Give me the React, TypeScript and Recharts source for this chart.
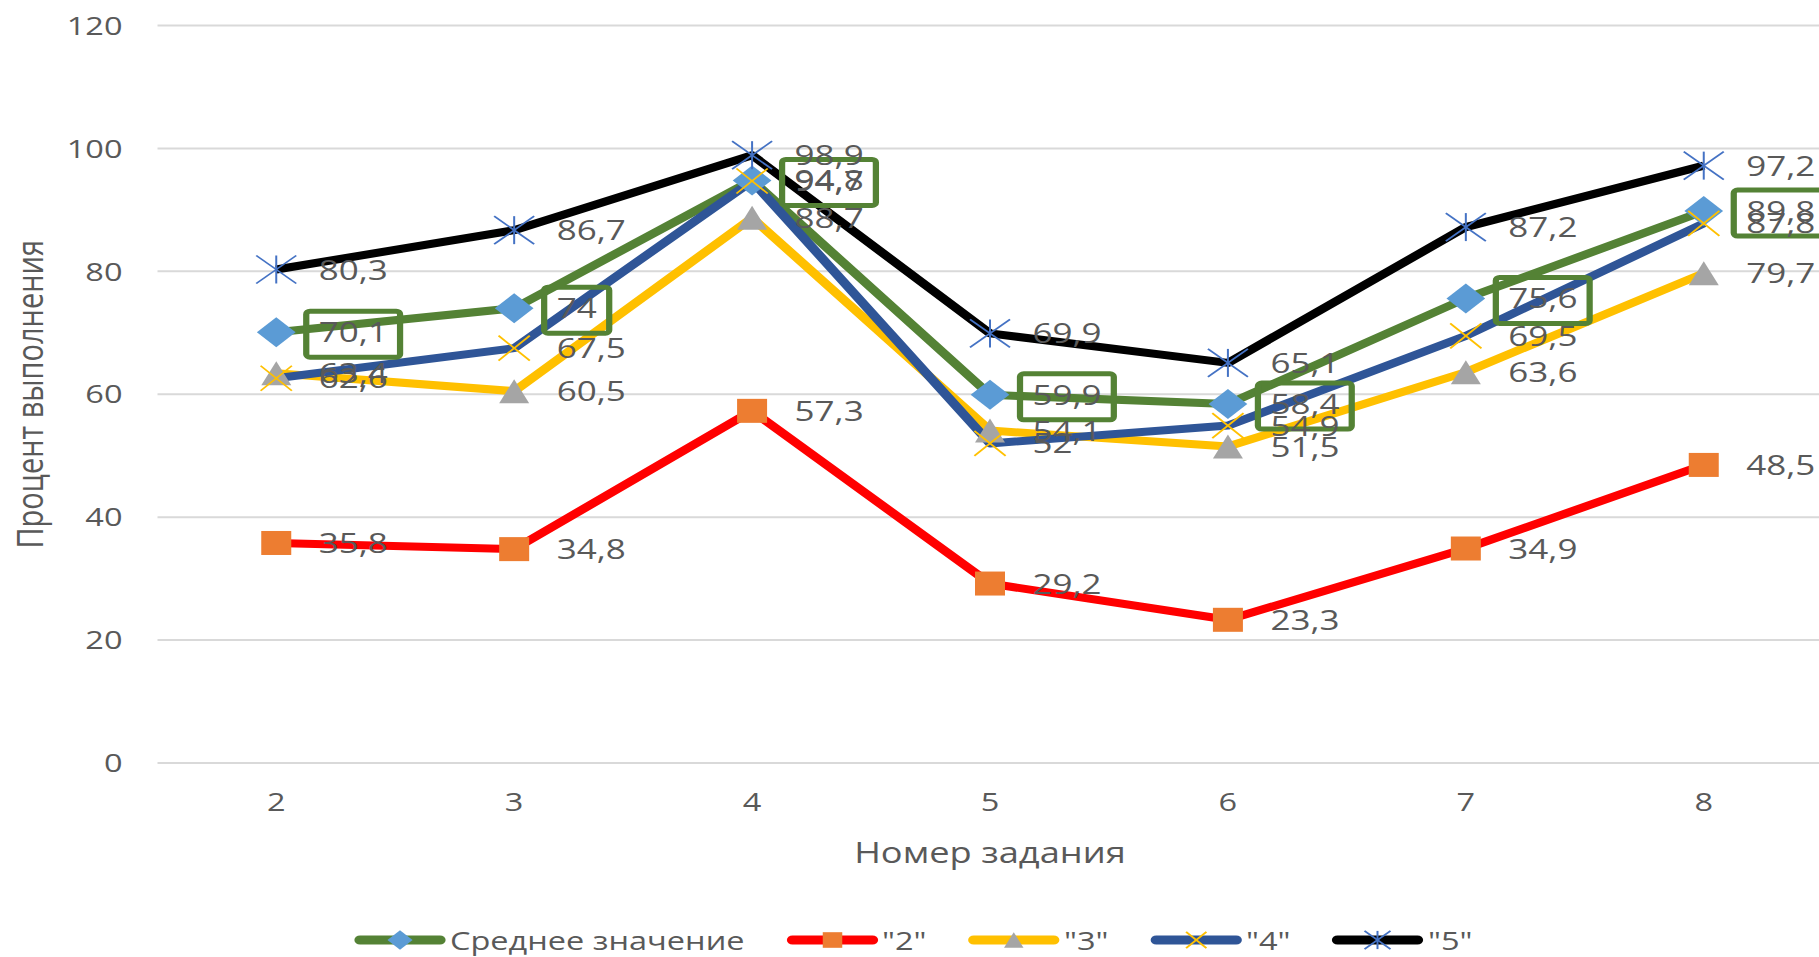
import { LineChart, Line, XAxis, YAxis, CartesianGrid, Legend, Label } from 'recharts'

const tasks = ['2', '3', '4', '5', '6', '7', '8']
const avgValues = [70.1, 74, 94.8, 59.9, 58.4, 75.6, 89.8]
const grade2 = [35.8, 34.8, 57.3, 29.2, 23.3, 34.9, 48.5]
const grade3 = [63.4, 60.5, 88.7, 54.1, 51.5, 63.6, 79.7]
const grade4 = [62.6, 67.5, 94.7, 52, 54.9, 69.5, 87.8]
const grade5 = [80.3, 86.7, 98.9, 69.9, 65.1, 87.2, 97.2]
const yTicks = [0, 20, 40, 60, 80, 100, 120]

// chart is drawn narrower and stretched sideways, like the reference picture
const W = 1460
const H = 957
const SX = 1.25
const TEXT = '#595959'

const series = [
  { key: 'avg', name: 'Среднее значение', color: '#548235', marker: 'diamond' },
  { key: 'g2', name: '"2"', color: '#FF0000', marker: 'square' },
  { key: 'g3', name: '"3"', color: '#FFC000', marker: 'triangle' },
  { key: 'g4', name: '"4"', color: '#2F5597', marker: 'cross' },
  { key: 'g5', name: '"5"', color: '#000000', marker: 'star' },
]

function Marker({ kind, cx, cy, k = 1 }: { kind: string; cx: number; cy: number; k?: number }) {
  if (kind === 'diamond') {
    const w = 15.5 * k, h = 15 * k
    return <polygon points={`${cx - w},${cy} ${cx},${cy - h} ${cx + w},${cy} ${cx},${cy + h}`} fill="#5B9BD5" />
  }
  if (kind === 'square') {
    const s = 12 * k
    return <rect x={cx - s} y={cy - s} width={2 * s} height={2 * s} fill="#ED7D31" />
  }
  if (kind === 'triangle') {
    const w = 12 * k, h = 12 * k
    return <polygon points={`${cx - w},${cy + h} ${cx},${cy - h} ${cx + w},${cy + h}`} fill="#A5A5A5" />
  }
  if (kind === 'cross') {
    const s = 12.5 * k
    return (
      <g stroke="#FFC000" strokeWidth={1.6}>
        <line x1={cx - s} y1={cy - s} x2={cx + s} y2={cy + s} />
        <line x1={cx - s} y1={cy + s} x2={cx + s} y2={cy - s} />
      </g>
    )
  }
  const w = 16 * k, h = 14 * k
  return (
    <g stroke="#4472C4" strokeWidth={1.6}>
      <line x1={cx - w} y1={cy - h} x2={cx + w} y2={cy + h} />
      <line x1={cx - w} y1={cy + h} x2={cx + w} y2={cy - h} />
      <line x1={cx} y1={cy - h} x2={cx} y2={cy + h} />
    </g>
  )
}

const dotOf = (kind: string) => (p: any) => {
  if (p.cx == null || p.cy == null) return <g key={p.index} />
  return (
    <g key={p.index}>
      <Marker kind={kind} cx={p.cx} cy={p.cy} />
    </g>
  )
}

const fmt = (v: number) => String(v).replace('.', ',')
const textW = (s: string) => [...s].reduce((w, c) => w + (c === ',' ? 0.25 : 0.572), 0) * 28

const labelOf = (boxed: boolean) => (p: any) => {
  const x = p.x ?? p.viewBox?.x
  const y = p.y ?? p.viewBox?.y
  if (x == null || y == null || p.value == null) return null
  const s = fmt(p.value)
  return (
    <g key={p.index}>
      {boxed && (
        <rect x={x + 24} y={y - 21} width={textW(s) + 20} height={46} rx={3} fill="none" stroke="#548235" strokeWidth={5} />
      )}
      <text x={x + 34} y={y} dy="0.36em" fontSize={28} fill={TEXT}>
        {s}
      </text>
    </g>
  )
}

function LegendRow() {
  return (
    <div style={{ display: 'flex', justifyContent: 'center', alignItems: 'center', height: 34, width: W }}>
      {series.map((s, i) => (
        <div key={s.key} style={{ display: 'flex', alignItems: 'center', marginLeft: i ? 32 : 0 }}>
          <svg width={76} height={26}>
            <line x1={6} y1={13} x2={70} y2={13} stroke={s.color} strokeWidth={9} strokeLinecap="round" />
            <Marker kind={s.marker} cx={38} cy={13} k={0.65} />
          </svg>
          <span style={{ marginLeft: 2, fontSize: 26, color: TEXT, lineHeight: '34px' }}>{s.name}</span>
        </div>
      ))}
    </div>
  )
}

export default function App() {
  const data = tasks.map((task, i) => ({
    task,
    avg: avgValues[i],
    g2: grade2[i],
    g3: grade3[i],
    g4: grade4[i],
    g5: grade5[i],
  }))

  return (
    <div style={{ position: 'absolute', left: 0, top: 0, width: 1819, height: 957, overflow: 'hidden', background: '#fff' }}>
      <div style={{ width: W, height: H, transform: `scaleX(${SX})`, transformOrigin: '0 0', fontFamily: '"Open Sans", sans-serif' }}>
        <LineChart width={W} height={H} data={data} margin={{ top: 25.5, right: 2, bottom: 74, left: 0 }}>
          <CartesianGrid vertical={false} stroke="#D9D9D9" strokeWidth={2} />
          <XAxis
            dataKey="task"
            padding={{ left: 95, right: 95 }}
            axisLine={false}
            tickLine={false}
            tickSize={0}
            tickMargin={30}
            height={120}
            interval={0}
            tick={{ fill: TEXT, fontSize: 26 }}
          >
            <Label value="Номер задания" position="insideBottom" offset={20} fill={TEXT} fontSize={29} />
          </XAxis>
          <YAxis
            domain={[0, 120]}
            ticks={yTicks}
            width={126}
            axisLine={false}
            tickLine={false}
            tickSize={0}
            tickMargin={28}
            tick={{ fill: TEXT, fontSize: 26 }}
          >
            <Label
              position="center"
              content={(p: any) => {
                const cx = 23
                const cy = p.viewBox ? p.viewBox.y + p.viewBox.height / 2 : 394
                return (
                  <text x={cx} y={cy} transform={`rotate(-90 ${cx} ${cy})`} textAnchor="middle" dominantBaseline="central" fill={TEXT} fontSize={29}>
                    Процент выполнения
                  </text>
                )
              }}
            />
          </YAxis>
          {series.map((s) => (
            <Line
              key={s.key}
              dataKey={s.key}
              name={s.name}
              stroke={s.color}
              strokeWidth={8}
              strokeLinejoin="round"
              dot={dotOf(s.marker)}
              activeDot={false}
              isAnimationActive={false}
            />
          ))}
          {series.map((s) => (
            <Line
              key={s.key + '-labels'}
              dataKey={s.key}
              stroke="none"
              strokeWidth={0}
              dot={false}
              activeDot={false}
              legendType="none"
              label={labelOf(s.key === 'avg')}
              isAnimationActive={false}
            />
          ))}
          <Legend
            verticalAlign="middle"
            align="center"
            layout="horizontal"
            wrapperStyle={{ top: 923, left: 0, width: W, height: 34 }}
            content={() => <LegendRow />}
          />
        </LineChart>
      </div>
    </div>
  )
}
